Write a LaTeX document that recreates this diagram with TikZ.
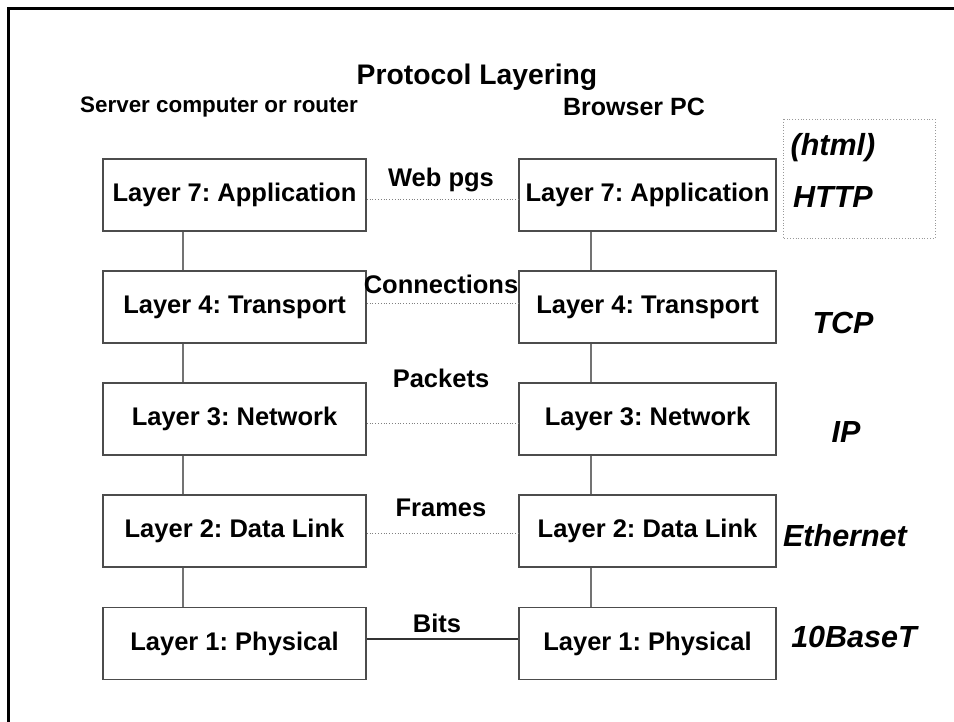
\documentclass[tikz,border=0pt]{standalone}
\usepackage{fontspec}
\setmainfont{Liberation Sans}
\frenchspacing
\begin{document}
\begin{tikzpicture}[x=1pt,y=-1pt,
  layerbox/.style={draw=black!70, line width=1.6pt, minimum height=72pt, inner sep=0pt,
    font=\bfseries\fontsize{25.5}{30}\selectfont},
  leftbox/.style={layerbox, minimum width=263pt},
  rightbox/.style={layerbox, minimum width=257pt},
  stack/.style={draw=black!55, line width=1.6pt},
  peer/.style={draw=black!50, line width=0.8pt, dotted},
  wire/.style={draw=black!80, line width=1.2pt},
  linklabel/.style={font=\bfseries\fontsize{25.5}{30}\selectfont, inner sep=0pt},
  heading/.style={font=\bfseries\fontsize{22.4}{27}\selectfont, inner sep=0pt},
  proto/.style={font=\bfseries\itshape\fontsize{30.5}{36}\selectfont, inner sep=0pt}]
\useasboundingbox (0,0) rectangle (954,722);
\fill[white] (0,0) rectangle (954,722);

% page frame (top and left edges)
\draw[line width=3pt, line cap=rect] (8,722) -- (8,9) -- (954,9);

% title and column headings
\node[font=\bfseries\fontsize{28.3}{34}\selectfont, inner sep=0pt] (title) at (477,77) {Protocol Layering};
\node[heading] (srv) at (219,107) {Server computer or router};
\node[heading, font=\bfseries\fontsize{25}{30}\selectfont] (pc) at (634,107) {Browser PC};

% layer stacks
\node[leftbox] (L7) at (234.5,195) {Layer 7: Application};
\node[leftbox] (L4) at (234.5,307) {Layer 4: Transport};
\node[leftbox] (L3) at (234.5,419) {Layer 3: Network};
\node[leftbox] (L2) at (234.5,531) {Layer 2: Data Link};
\node[leftbox] (L1) at (234.5,643.5) {Layer 1: Physical};

\node[rightbox] (R7) at (647.5,195) {Layer 7: Application};
\node[rightbox] (R4) at (647.5,307) {Layer 4: Transport};
\node[rightbox] (R3) at (647.5,419) {Layer 3: Network};
\node[rightbox] (R2) at (647.5,531) {Layer 2: Data Link};
\node[rightbox] (R1) at (647.5,643.5) {Layer 1: Physical};

% vertical links inside each stack
\coordinate (cl) at (183,0);
\coordinate (cr) at (591,0);
\foreach \a/\b in {7/4,4/3,3/2,2/1}{
  \draw[stack] (L\a.south -| cl) -- (L\b.north -| cl);
  \draw[stack] (R\a.south -| cr) -- (R\b.north -| cr);
}

% peer-to-peer links
\draw[peer] ([yshift=-4pt]L7.east) -- ([yshift=-4pt]R7.west);
\draw[peer] ([yshift=4pt]L4.east) -- ([yshift=4pt]R4.west);
\draw[peer] ([yshift=-4pt]L3.east) -- ([yshift=-4pt]R3.west);
\draw[peer] ([yshift=-2pt]L2.east) -- ([yshift=-2pt]R2.west);
\draw[wire] ([yshift=4.5pt]L1.east) -- ([yshift=4.5pt]R1.west);

\node[linklabel] (w7) at (441,180) {Web pgs};
\node[linklabel] (w4) at (441,284) {Connections};
\node[linklabel] (w3) at (441,378) {Packets};
\node[linklabel] (w2) at (441,508) {Frames};
\node[linklabel] (w1) at (437,623) {Bits};

% protocol names
\draw[draw=black!40, line width=0.8pt, dotted] (783,119) rectangle (935,238);
\node[proto] (html) at (833,148) {(html)};
\node[proto] (http) at (833,197) {HTTP};
\node[proto] (tcp) at (843,323) {TCP};
\node[proto] (ip) at (846,432) {IP};
\node[proto] (eth) at (845,536) {Ethernet};
\node[proto] (bt) at (854,637) {10BaseT};
\end{tikzpicture}
\end{document}
